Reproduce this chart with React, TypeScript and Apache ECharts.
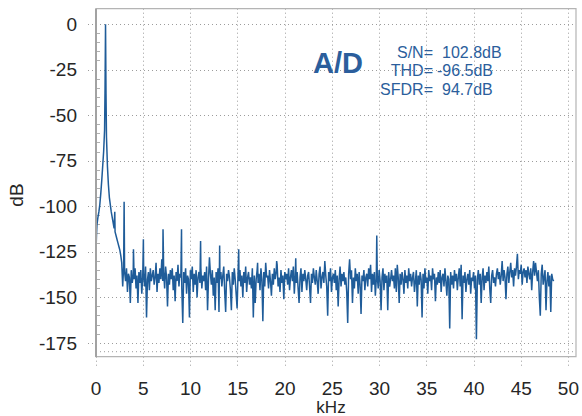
import React, { useEffect, useRef } from "react";
import * as echarts from "echarts";

// ---- data ----
// main 1 kHz tone and its skirt
const PEAK_KHZ = [0.0, 0.05, 0.1, 0.2, 0.3, 0.4, 0.5, 0.6, 0.7, 0.8, 0.9, 0.95, 1.0, 1.05, 1.1, 1.2, 1.3, 1.4, 1.5, 1.6, 1.7, 1.8, 1.9, 2.0, 2.1, 2.2, 2.3, 2.4, 2.5, 2.6];
const PEAK_DB = [-125, -116, -110, -106, -103, -99, -93, -86, -78, -70, -58, -35, 0, -38, -62, -78, -88, -95, -99, -103, -106, -109, -112, -114, -116, -118, -120, -122, -124, -127];

// noise floor, 2.7 kHz .. 48.0 kHz, one value every 0.1 kHz
const NOISE_START_KHZ = 2.7;
const NOISE_STEP_KHZ = 0.1;
const NOISE_DB = [
  -131, -144, -133,
  -136, -141, -134, -147, -137, -139, -153, -135, -142, -138,
  -140, -134, -145, -138, -153, -136, -142, -135, -148, -139,
  -137, -144, -133, -161, -140, -136, -146, -134, -141, -138,
  -135, -143, -139, -131, -147, -137, -142, -134, -140, -129,
  -141, -136, -145, -133, -139, -155, -137, -143, -135, -140,
  -134, -146, -138, -152, -136, -141, -132, -144, -137, -139,
  -145, -164, -136, -142, -134, -148, -138, -140, -161, -135,
  -140, -133, -147, -137, -143, -135, -150, -139, -136, -142,
  -134, -145, -138, -141, -136, -146, -133, -157, -140, -128,
  -137, -143, -135, -149, -139, -157, -136, -142, -134, -158,
  -140, -136, -144, -138, -133, -147, -158, -137, -141, -135,
  -139, -146, -157, -136, -143, -134, -140, -148, -156, -137,
  -141, -135, -144, -138, -150, -136, -142, -133, -147, -139,
  -136, -143, -139, -145, -134, -161, -138, -153, -140, -135,
  -142, -137, -146, -134, -140, -163, -136, -144, -131, -139,
  -138, -145, -135, -141, -149, -137, -143, -134, -140, -136,
  -132, -144, -139, -147, -135, -142, -138, -151, -136, -140,
  -137, -143, -134, -146, -139, -135, -141, -133, -148, -138,
  -142, -136, -145, -153, -139, -134, -147, -137, -141, -135,
  -140, -146, -138, -136, -144, -153, -137, -142, -134, -139,
  -143, -135, -141, -148, -137, -133, -145, -139, -136, -142,
  -130, -138, -144, -160, -136, -141, -134, -147, -139, -137,
  -142, -135, -146, -138, -155, -140, -133, -144, -137, -141,
  -136, -143, -139, -147, -164, -137, -129, -140, -135, -153,
  -139, -145, -134, -141, -137, -148, -136, -143, -159, -138,
  -141, -135, -146, -139, -137, -144, -134, -140, -132, -147,
  -137, -143, -136, -149, -140, -138, -145, -135, -141, -157,
  -139, -134, -146, -137, -142, -138, -157, -136, -144, -140,
  -135, -141, -138, -145, -134, -147, -132, -139, -153, -137,
  -143, -136, -140, -148, -135, -142, -138, -145, -134, -141,
  -137, -144, -139, -136, -147, -141, -135, -155, -138, -143,
  -136, -140, -161, -137, -145, -134, -142, -139, -148, -135,
  -141, -138, -146, -134, -140, -137, -152, -139, -143, -136,
  -142, -135, -147, -139, -137, -144, -134, -141, -149, -138,
  -140, -167, -136, -143, -138, -145, -135, -141, -137, -146,
  -139, -134, -144, -132, -162, -138, -142, -136, -147, -140,
  -137, -143, -135, -148, -139, -141, -136, -145, -138, -173,
  -140, -135, -143, -137, -153, -139, -134, -146, -138, -142,
  -136, -141, -133, -145, -153, -138, -135, -142, -139, -144,
  -137, -134, -140, -136, -143, -138, -130, -141, -135, -139,
  -151, -137, -133, -142, -136, -131, -139, -135, -144, -134,
  -138, -133, -126, -140, -135, -137, -132, -143, -136, -134,
  -139, -135, -142, -133, -137, -140, -134, -146, -136, -130,
  -138, -131, -136, -141, -135, -150, -160, -137, -132, -143,
  -139, -135, -157, -141, -136, -144, -138, -158, -137, -140,
  -141,
];

// harmonic / spurious spikes
const SPIKE_KHZ = [1.97, 2.95, 3.93, 4.97, 7.03, 8.97, 10.97, 12.97, 14.97, 16.95, 18.95, 20.95, 29.45];
const SPIKE_DB = [-103, -97.5, -123.5, -118, -112.5, -112.5, -119, -121.5, -123.5, -131, -130, -128.5, -116];

const ANNOT_LABELS = ["S/N=", "THD=", "SFDR="];
const ANNOT_VALUES = ["102.8dB", "-96.5dB", "94.7dB"];

const FONT = '"Liberation Sans", Arial, Helvetica, sans-serif';
const BLUE_TEXT = "#2b5e9c";
const LINE_BLUE = "#1f5c99";
const GRID_GRAY = "#9c9c9c";

function buildData(): number[][] {
  const pts: number[][] = [];
  PEAK_KHZ.forEach((f, i) => pts.push([f, PEAK_DB[i]]));
  NOISE_DB.forEach((v, i) => pts.push([Math.round((NOISE_START_KHZ + i * NOISE_STEP_KHZ) * 100) / 100, v]));
  SPIKE_KHZ.forEach((f, i) => pts.push([f, SPIKE_DB[i]]));
  pts.sort((a, b) => a[0] - b[0]);
  return pts;
}

export default function App() {
  const ref = useRef<HTMLDivElement>(null);
  useEffect(() => {
    if (!ref.current) return;
    const chart = echarts.init(ref.current, null, { renderer: "svg" });
    const dotted = { color: GRID_GRAY, width: 1, type: [1, 3] as any };
    const annotTexts: any[] = [];
    const rowY = [52, 70, 89];
    const valX = [442, 437, 442];
    ANNOT_LABELS.forEach((t, i) => {
      annotTexts.push({
        type: "text", silent: true, z: 20,
        style: { text: t, x: 433, y: rowY[i], fill: BLUE_TEXT, fontSize: 16, fontFamily: FONT,
          align: "right", verticalAlign: "middle", textAlign: "right", textVerticalAlign: "middle" },
      });
      annotTexts.push({
        type: "text", silent: true, z: 20,
        style: { text: ANNOT_VALUES[i], x: valX[i], y: rowY[i], fill: BLUE_TEXT, fontSize: 16, fontFamily: FONT,
          align: "left", verticalAlign: "middle", textAlign: "left", textVerticalAlign: "middle" },
      });
    });
    chart.setOption({
      animation: false,
      backgroundColor: "#ffffff",
      grid: [
        { left: 96, right: 9.3, top: 8.7, bottom: 48 },
        { left: 88, right: 6, top: 24.3, bottom: 73 },
      ],
      xAxis: [
        {
          gridIndex: 0, type: "value", min: 0, max: 50, interval: 5,
          axisLine: { show: false }, axisTick: { show: false },
          axisLabel: { margin: 11, fontSize: 19, lineHeight: 19, color: "#262626", fontFamily: FONT },
          splitLine: { show: true, lineStyle: dotted },
        },
        { gridIndex: 1, type: "value", min: -0.839, max: 50.346, show: false },
      ],
      yAxis: [
        { gridIndex: 0, type: "value", min: 0, max: 1, show: false },
        {
          gridIndex: 1, type: "value", min: -175, max: 0, interval: 25, offset: -8,
          axisLine: { show: false },
          axisTick: { show: false, inside: true },
          minorTick: { show: true, splitNumber: 5, length: 4, lineStyle: { color: "#b0b0b0", width: 1 } },
          axisLabel: { margin: 19, fontSize: 19, color: "#262626", fontFamily: FONT },
          splitLine: { show: true, lineStyle: dotted },
        },
      ],
      series: [
        {
          type: "line", xAxisIndex: 1, yAxisIndex: 1, data: buildData(),
          showSymbol: false, symbol: "none", clip: false,
          lineStyle: { color: LINE_BLUE, width: 1.5 },
        },
      ],
      graphic: [
        {
          type: "rect", silent: true, z: 10,
          shape: { x: 96, y: 8.7, width: 480, height: 348 },
          style: { fill: "none", stroke: "#b4b4b4", lineWidth: 1.2 },
        },
        {
          type: "line", silent: true, z: 11,
          shape: { x1: 96, y1: 8.7, x2: 96, y2: 357 },
          style: { stroke: "#a2a2a2", lineWidth: 2 },
        },
        {
          type: "line", silent: true, z: 5,
          shape: { x1: 96, y1: 351.7, x2: 576, y2: 351.7 },
          style: { stroke: GRID_GRAY, lineWidth: 1, lineDash: [1, 3] },
        },
        {
          type: "text", silent: true, z: 20,
          style: { text: "A/D", x: 338, y: 63, fill: BLUE_TEXT, fontSize: 29, fontWeight: "bold", fontFamily: FONT,
            align: "center", verticalAlign: "middle", textAlign: "center", textVerticalAlign: "middle" },
        },
        ...annotTexts,
        {
          type: "text", silent: true, z: 20, x: 16, y: 195, rotation: Math.PI / 2,
          style: { text: "dB", x: 0, y: 0, fill: "#262626", fontSize: 19, fontFamily: FONT,
            align: "center", verticalAlign: "middle", textAlign: "center", textVerticalAlign: "middle" },
        },
        {
          type: "text", silent: true, z: 20,
          style: { text: "kHz", x: 331, y: 407, fill: "#262626", fontSize: 17, fontFamily: FONT,
            align: "center", verticalAlign: "middle", textAlign: "center", textVerticalAlign: "middle" },
        },
      ],
    });
    return () => chart.dispose();
  }, []);
  return <div ref={ref} style={{ position: "fixed", left: 0, top: 0, width: 582, height: 416 }} />;
}
